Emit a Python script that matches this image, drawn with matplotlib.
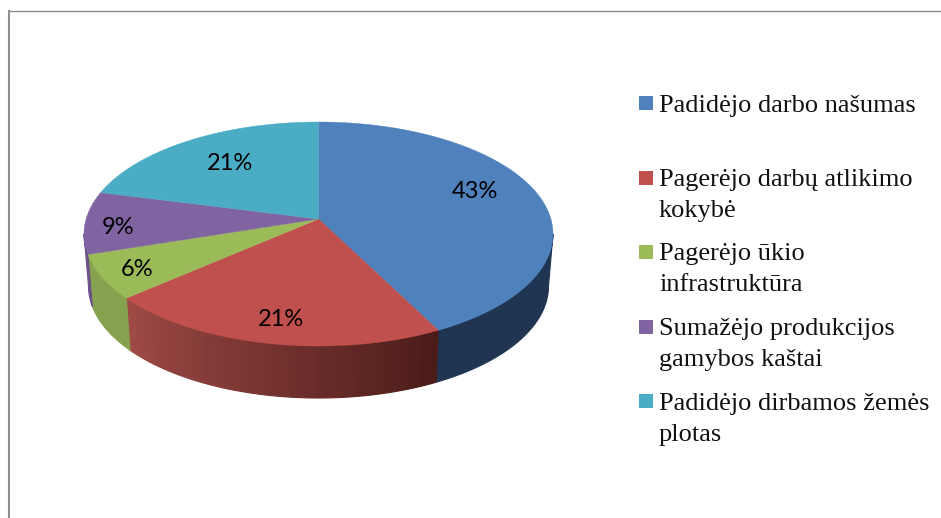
import numpy as np
import matplotlib
matplotlib.use("Agg")
import matplotlib.pyplot as plt
from matplotlib.patches import Rectangle

# Data
categories = [
    "Padidėjo darbo našumas",
    "Pagerėjo darbų atlikimo\nkokybė",
    "Pagerėjo ūkio\ninfrastruktūra",
    "Sumažėjo produkcijos\ngamybos kaštai",
    "Padidėjo dirbamos žemės\nplotas",
]
values = [42.5, 21.1, 6.4, 9.0, 21.0]
labels = ["43%", "21%", "6%", "9%", "21%"]

# Style
top_colors = ["#4F81BD", "#C0504D", "#9BBB59", "#8064A2", "#4BACC6"]
side_left = ["#1F3552", "#A04B46", "#87A24E", "#6A5188", "#3A8CA2"]
side_right = ["#1F3552", "#4A1B18", "#87A24E", "#6A5188", "#3A8CA2"]
label_xy = [(475, 191), (281, 319), (137, 270), (118, 227), (230, 163)]
swatch_y = [96, 171, 245, 320, 394]
legend_baselines = [112, 186, 260, 335, 410]
legend_linestep = 31

CX, TOP_CY, TOP_RX, RY = 318.5, 234.0, 234.5, 112.0
BOT_CY, BOT_RX = 286.0, 230.0
A = 0.134  # perspective shift of the pie centre


def project(theta, r, cy, rx):
    u, v = r * np.sin(theta), r * np.cos(theta)
    d = 1 + A * v
    return CX + rx * u * np.sqrt(1 - A ** 2) / d, cy - RY * (v + A) / d


def hex2rgb(c):
    return np.array(matplotlib.colors.to_rgb(c))


fig = plt.figure(figsize=(9.41, 5.18), dpi=100)
ax = fig.add_axes([0, 0, 1, 1])
ax.set_xlim(0, 941)
ax.set_ylim(518, 0)
ax.axis("off")

# Frame
ax.plot([9.5, 941], [10.5, 10.5], color="#8C8C8C", lw=1.0, solid_capstyle="butt")
ax.plot([9.3, 9.3], [10, 518], color="#8F8F8F", lw=1.5, solid_capstyle="butt")

edges = np.cumsum([0] + values) / sum(values) * 2 * np.pi
wall_start = np.arccos(-A)  # rim's silhouette point on the right
wall_end = 2 * np.pi - wall_start

# Side wall (front part only, between the two silhouette points)
for i in range(len(values)):
    lo, hi = max(edges[i], wall_start), min(edges[i + 1], wall_end)
    if hi <= lo:
        continue
    c_r, c_l = hex2rgb(side_right[i]), hex2rgb(side_left[i])
    steps = 1 if side_left[i] == side_right[i] else max(2, int((hi - lo) * 40))
    ts = np.linspace(lo, hi, steps + 1)
    for j in range(steps):
        f = (j + 0.5) / steps
        seg = np.linspace(ts[j], ts[j + 1], 60 if steps == 1 else 3)
        xt, yt = project(seg, 1, TOP_CY, TOP_RX)
        xb, yb = project(seg, 1, BOT_CY, BOT_RX)
        col = c_r * (1 - f) + c_l * f
        ax.fill(np.r_[xt, xb[::-1]], np.r_[yt, yb[::-1]], color=col, lw=0.8)

# Top face
for i in range(len(values)):
    ts = np.linspace(edges[i], edges[i + 1], 200)
    x, y = project(ts, 1, TOP_CY, TOP_RX)
    x0, y0 = project(0.0, 0, TOP_CY, TOP_RX)
    ax.fill(np.r_[x0, x], np.r_[y0, y], color=top_colors[i], lw=0.3)

# Percent labels
for (x, y), t in zip(label_xy, labels):
    ax.text(x, y, t, ha="center", va="center", fontsize=17,
            family="Lato", color="black")

# Legend
for cat, col, sy, by in zip(categories, top_colors, swatch_y, legend_baselines):
    ax.add_patch(Rectangle((639, sy), 14, 14, facecolor=col, edgecolor="none"))
    for k, line in enumerate(cat.split("\n")):
        ax.text(659, by + k * legend_linestep, line, ha="left", va="baseline",
                fontsize=19, family="Liberation Serif", color="#111111")

fig.savefig("out.png", dpi=100)
